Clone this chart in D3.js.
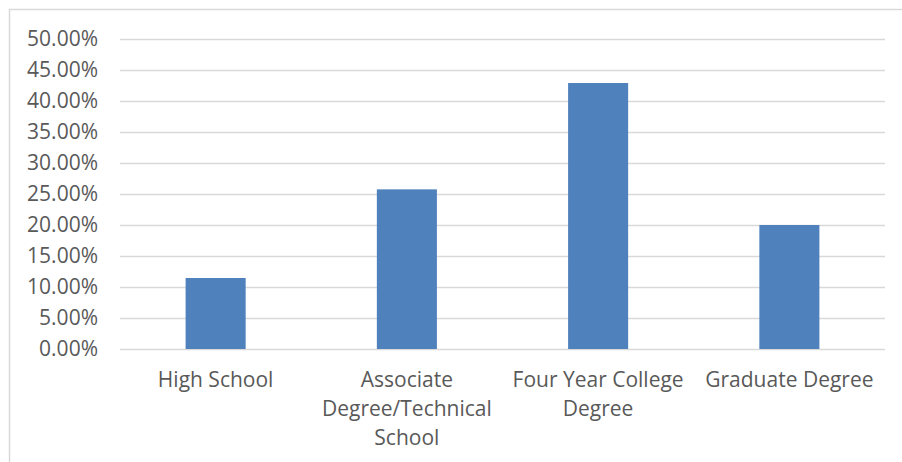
<!DOCTYPE html>
<html>
<head>
<meta charset="utf-8">
<script src="https://cdn.jsdelivr.net/npm/d3@7"></script>
<style>
  body { margin: 0; background: #fff; }
  svg { display: block; }
</style>
</head>
<body>
<script>
// chart values
var categories = ["High School", "Associate Degree/Technical School", "Four Year College Degree", "Graduate Degree"];
var values = [0.1145, 0.2575, 0.4290, 0.2000];
var yTicks = [0, 0.05, 0.10, 0.15, 0.20, 0.25, 0.30, 0.35, 0.40, 0.45, 0.50];

var width = 902,
    height = 462;

var margin = { top: 39, right: 17, bottom: 113, left: 120 };

var svg = d3.select("body")
    .append("svg")
    .attr("width", width)
    .attr("height", height);

// chart area border (runs off the right and bottom edge)
svg.append("rect")
    .attr("x", 9.5)
    .attr("y", 9.5)
    .attr("width", 1000)
    .attr("height", 1000)
    .style("fill", "none")
    .style("stroke", "#d9d9d9")
    .style("stroke-width", 1.5);

var x = d3.scaleBand()
    .domain(categories)
    .range([margin.left, width - margin.right])
    .paddingInner(0.686)
    .paddingOuter(0.343);

var y = d3.scaleLinear()
    .domain([0, 0.5])
    .range([height - margin.bottom, margin.top]);

var fmt = function (d) { return (d * 100).toFixed(2) + "%"; };

// gridlines + tick labels
var yAxis = d3.axisLeft(y)
    .tickValues(yTicks)
    .tickFormat(fmt)
    .tickSize(-(width - margin.right - margin.left))
    .tickPadding(22);

var gy = svg.append("g")
    .attr("transform", "translate(" + margin.left + ",0)")
    .call(yAxis);

gy.select(".domain").remove();
gy.selectAll("line")
    .style("stroke", "#d9d9d9")
    .style("stroke-width", 1.5);
gy.selectAll("text")
    .style("font-family", "'Open Sans', sans-serif")
    .style("font-size", "21px")
    .style("fill", "#595959");

// bars
svg.append("g")
    .selectAll("rect")
    .data(values)
    .enter().append("rect")
    .attr("x", function (d, i) { return x(categories[i]); })
    .attr("y", function (d) { return y(d); })
    .attr("width", x.bandwidth())
    .attr("height", function (d) { return y(0) - y(d); })
    .style("fill", "#4f81bd");

// category labels, wrapped
var labels = svg.append("g")
    .selectAll("text")
    .data(categories)
    .enter().append("text")
    .attr("x", function (d) { return x(d) + x.bandwidth() / 2; })
    .attr("y", y(0) + 38)
    .attr("text-anchor", "middle")
    .style("font-family", "'Open Sans', sans-serif")
    .style("font-size", "21px")
    .style("fill", "#595959")
    .each(function (d) {
        wrap(d3.select(this), d, x.step() - 6);
    });

function wrap(text, str, maxWidth) {
    var words = str.split(" "),
        line = [],
        xPos = text.attr("x");
    var tspan = text.append("tspan").attr("x", xPos).attr("dy", 0);
    words.forEach(function (w) {
        line.push(w);
        tspan.text(line.join(" "));
        if (tspan.node().getComputedTextLength() > maxWidth && line.length > 1) {
            line.pop();
            tspan.text(line.join(" "));
            line = [w];
            tspan = text.append("tspan").attr("x", xPos).attr("dy", 29).text(w);
        }
    });
}
</script>
</body>
</html>
